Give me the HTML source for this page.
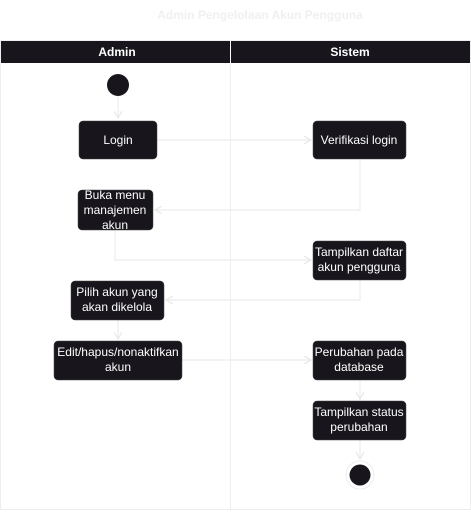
<!DOCTYPE html><html><head><style>body{margin:0;background:#fff;width:471px;height:511px;overflow:hidden}</style></head><body>
<svg width="471" height="511" xmlns="http://www.w3.org/2000/svg" font-family="Liberation Sans, sans-serif">
<defs><marker id="a" markerWidth="8" markerHeight="8" refX="7" refY="4" orient="auto" markerUnits="userSpaceOnUse"><path d="M0,0L7,4L0,8" fill="none" stroke="#e8e8e8" stroke-width="1.2"/></marker></defs>
<text x="260" y="19" text-anchor="middle" font-size="12" font-weight="bold" fill="#f0f0f0">Admin Pengelolaan Akun Pengguna</text>
<rect x="0.5" y="40.5" width="470" height="469" fill="none" stroke="#eee"/>
<rect x="1" y="41" width="469" height="22" fill="#18161c"/>
<line x1="230.5" y1="41" x2="230.5" y2="510" stroke="#eee"/>
<line x1="230.5" y1="41" x2="230.5" y2="63" stroke="#fff"/>
<text x="117" y="56" text-anchor="middle" font-size="12" font-weight="bold" fill="#fff">Admin</text>
<text x="350" y="56" text-anchor="middle" font-size="12" font-weight="bold" fill="#fff">Sistem</text>
<g stroke="#ececec" stroke-width="1.2" fill="none" marker-end="url(#a)">
<path d="M118,96V118"/><path d="M157,140H311"/><path d="M360,159V210H155"/><path d="M115,230V260H311"/><path d="M360,280V300H166"/><path d="M118,320V339"/><path d="M182,360H311"/><path d="M360,380V399"/><path d="M360,440V459"/>
</g>
<circle cx="118" cy="85" r="11" fill="#18161c"/>
<circle cx="360" cy="475" r="14" fill="#fff" stroke="#eee"/>
<circle cx="360" cy="475" r="10.5" fill="#18161c"/>
<g fill="#18161c" stroke="#444" stroke-width=".5">
<rect x="79" y="121" width="78" height="38" rx="4"/>
<rect x="313" y="121" width="93" height="38" rx="4"/>
<rect x="78" y="190" width="75" height="40" rx="4"/>
<rect x="313" y="241" width="93" height="39" rx="4"/>
<rect x="71" y="281" width="93" height="39" rx="4"/>
<rect x="54" y="341" width="128" height="39" rx="4"/>
<rect x="313" y="341" width="93" height="39" rx="4"/>
<rect x="313" y="401" width="93" height="39" rx="4"/>
</g>
<g fill="#fff" font-size="12" text-anchor="middle">
<text x="118" y="144">Login</text>
<text x="359" y="144">Verifikasi login</text>
<text x="115" y="199">Buka menu</text><text x="115" y="214">manajemen</text><text x="115" y="229">akun</text>
<text x="359" y="256">Tampilkan daftar</text><text x="359" y="271">akun pengguna</text>
<text x="117" y="296">Pilih akun yang</text><text x="117" y="311">akan dikelola</text>
<text x="118" y="356">Edit/hapus/nonaktifkan</text><text x="118" y="371">akun</text>
<text x="359" y="356">Perubahan pada</text><text x="359" y="371">database</text>
<text x="359" y="416">Tampilkan status</text><text x="359" y="431">perubahan</text>
</g>
</svg></body></html>
